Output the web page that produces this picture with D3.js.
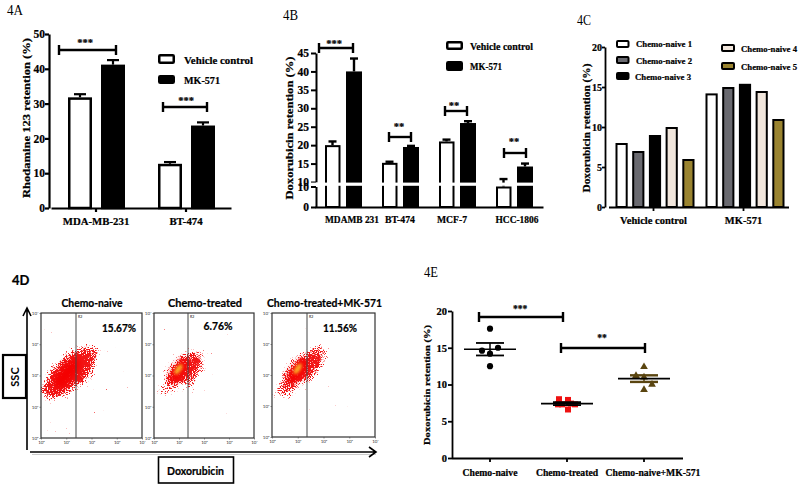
<!DOCTYPE html>
<html><head><meta charset="utf-8">
<script src="https://cdn.jsdelivr.net/npm/d3@7/dist/d3.min.js"></script>
<style>html,body{margin:0;background:#fff}svg{display:block}</style></head>
<body><svg id="c" width="800" height="486"></svg>
<script>
// ---- 4A
const aCats = ["MDA-MB-231","BT-474"];
const aSeries = ["Vehicle control","MK-571"];
const aVehicle = [31.8,12.7];
const aVehicleErr = [0.9,0.5];
const aMk = [41.2,23.7];
const aMkErr = [1.3,0.9];
// ---- 4B
const bCats = ["MDAMB 231","BT-474","MCF-7","HCC-1806"];
const bVehicle = [20,15.2,21,10];
const bVehicleErr = [1,0.3,0.5,0.8];
const bMk = [40,19.5,26,14.2];
const bMkErr = [3.5,0.3,0.5,0.8];
const bTicksLow = [0,10];
const bTicksHigh = [10,15,20,25,30,35,40,45];
// ---- 4C
const cCats = ["Vehicle control","MK-571"];
const cSeries = ["Chemo-naive 1","Chemo-naive 2","Chemo-naive 3","Chemo-naive 4","Chemo-naive 5"];
const cVehicle = [8,7,9,10,6];
const cMk = [14.2,15,15.4,14.5,11];
// ---- 4D flow cytometry density regions: [log x, log y, log rx, log ry, tilt]
const dPanels = ["Chemo-naive","Chemo-treated","Chemo-treated+MK-571"];
const dPercents = ["15.67%","6.76%","11.56%"];
const dNaive = [[1.02,2.05,1.22,0.46,-50],[1.72,2.3,0.9,0.3,-62],[0.42,1.55,0.55,0.16,-8]];
const dTreated = [[1.0,2.15,0.88,0.29,-54],[1.6,2.22,0.78,0.2,-70],[0.3,1.42,0.34,0.09,-8]];
const dCombo = [[1.0,2.12,0.94,0.32,-50],[1.6,2.38,0.78,0.25,-64],[0.42,1.42,0.44,0.1,-8]];
const dHot = [[],[0.98,2.2,0.24,0.09,-55],[1.0,2.2,0.24,0.09,-55]];
// ---- 4E
const eCats = ["Chemo-naive","Chemo-treated","Chemo-naive+MK-571"];
const ePointsNaive = [17.6,14.6,15,14.2,12.5];
const ePointsTreated = [8,7.9,7.3,7.4,6.6,7.3,7.3];
const ePointsCombo = [12.4,11.2,11,10,9.3];
const eMeans = [14.8,7.4,10.8];
const eErrs = [0.85,0.2,0.45];

const svg = d3.select("#c");
const SERIF = "'Liberation Serif','Times New Roman',serif";
const SANS = "Lato,'Open Sans',sans-serif";

function txt(x,y,s,size,opt={}){
  const t = svg.append("text").attr("x",x).attr("y",y).text(s)
    .attr("font-family",opt.family||SERIF).attr("font-size",size)
    .attr("font-weight",opt.weight||"bold").attr("fill","#000")
    .attr("text-anchor",opt.anchor||"start").attr("dominant-baseline","central");
  if((opt.weight||"bold")==="bold") t.attr("stroke","#000").attr("stroke-width",0.22);
  if(opt.len) t.attr("textLength",opt.len).attr("lengthAdjust","spacingAndGlyphs");
  return t;
}
function ylabel(x,cy,s,size,len){
  svg.append("text").attr("transform",`translate(${x},${cy}) rotate(-90)`).text(s)
    .attr("font-family",SERIF).attr("font-size",size).attr("font-weight","bold")
    .attr("stroke","#000").attr("stroke-width",0.22)
    .attr("text-anchor","middle").attr("dominant-baseline","central")
    .attr("textLength",len).attr("lengthAdjust","spacingAndGlyphs");
}
function styleAxis(g,w,size,family){
  g.selectAll("path,line").attr("stroke","#000").attr("stroke-width",w);
  g.selectAll("text").attr("font-family",family||SERIF).attr("font-size",size).attr("font-weight","bold").attr("fill","#000")
   .attr("stroke","#000").attr("stroke-width",0.22);
}
function bracket(x0,x1,y,cap,w){
  const g = svg.append("g").attr("stroke","#000").attr("stroke-width",w||2.4).attr("fill","none");
  g.append("line").attr("x1",x0).attr("x2",x1).attr("y1",y).attr("y2",y);
  [x0,x1].forEach(x=>g.append("line").attr("x1",x).attr("x2",x).attr("y1",y-cap).attr("y2",y+cap));
}
function stars(x,y,s,size){ txt(x,y,s,size||10.5,{anchor:"middle"}); }
function bar(g,x,w,yTop,yBase,fill,sw){
  g.append("rect").attr("x",x+sw/2).attr("y",yTop+sw/2).attr("width",w-sw).attr("height",yBase-yTop-sw/2)
   .attr("fill",fill).attr("stroke","#000").attr("stroke-width",sw);
}
function err(g,cx,yFrom,yTo,capW,w){
  g.append("line").attr("x1",cx).attr("x2",cx).attr("y1",yFrom).attr("y2",yTo).attr("stroke","#000").attr("stroke-width",w);
  g.append("line").attr("x1",cx-capW).attr("x2",cx+capW).attr("y1",yTo).attr("y2",yTo).attr("stroke","#000").attr("stroke-width",w);
}
function swatch(x,y,w,h,fill,sw){
  svg.append("rect").attr("x",x+sw/2).attr("y",y+sw/2).attr("width",w-sw).attr("height",h-sw).attr("fill",fill).attr("stroke","#000").attr("stroke-width",sw).attr("rx",1);
}

// ===== 4A
(function(){
  txt(7,10,"4A",14.5,{weight:"normal",len:16});
  const x = d3.scaleBand().domain(aCats).range([51,231]);
  const y = d3.scaleLinear().domain([0,50]).range([208,34]);
  const g = svg.append("g");
  aCats.forEach((c,i)=>{
    [[aSeries[0],aVehicle[i],aVehicleErr[i],"#fff"],[aSeries[1],aMk[i],aMkErr[i],"#000"]].forEach(d=>{
      const bw = 24, bx = x(c)+ (d[0]===aSeries[0]?45-28:45+5);
      err(g,bx+bw/2,y(d[1]),y(d[1]+d[2]),6,2.2);
      bar(g,bx,bw,y(d[1]),208,d[3],2.5);
    });
  });
  const ax = svg.append("g").attr("transform","translate(49,0)").call(d3.axisLeft(y).tickValues([0,10,20,30,40,50]).tickFormat(d3.format("d")).tickSize(4).tickSizeOuter(0).tickPadding(0));
  styleAxis(ax,2.2,11.5);
  const bx = svg.append("g").attr("transform","translate(0,208)").call(d3.axisBottom(x).tickSize(4).tickSizeOuter(0).tickPadding(5));
  styleAxis(bx,2.2,10.8);
  ylabel(26,118,"Rhodamine 123 retention (%)",10.5,160);
  bracket(59,116,50,5); stars(85,42,"***");
  bracket(163,207,107,5); stars(186,100,"***");
  swatch(158,54,17,10,"#fff",2.5); swatch(158,75,17,9,"#000",2.5);
  txt(184,60,aSeries[0],11,{len:69}); txt(184,80,aSeries[1],11,{len:36});
})();

// ===== 4B
(function(){
  txt(283,15,"4B",14.5,{weight:"normal",len:15});
  const yLow = d3.scaleLinear().domain([0,10]).range([207,186.5]);
  const yHigh = d3.scaleLinear().domain([10,45]).range([182,53]);
  const y = v => v<=10 ? yLow(v) : yHigh(v);
  const x = d3.scaleBand().domain(bCats).range([315,543]);
  const g = svg.append("g");
  bCats.forEach((c,i)=>{
    const L = x(c);
    err(g,L+17.5,y(bVehicle[i]),y(bVehicle[i]+bVehicleErr[i]),4,2.4);
    bar(g,L+10,15.5,y(bVehicle[i]),207,"#fff",2);
    err(g,L+39,y(bMk[i]),y(bMk[i]+bMkErr[i]),4,2.4);
    bar(g,L+31,16,y(bMk[i]),207,"#000",2);
  });
  const ax = svg.append("g").attr("transform","translate(316,0)");
  ax.append("g").call(d3.axisLeft(yHigh).tickValues(bTicksHigh).tickFormat(d3.format("d")).tickSize(5).tickSizeOuter(0).tickPadding(2));
  ax.append("g").call(d3.axisLeft(yLow).tickValues(bTicksLow).tickFormat(d3.format("d")).tickSize(5).tickSizeOuter(0).tickPadding(2));
  styleAxis(ax,2,11.5);
  const bx = svg.append("g").attr("transform","translate(0,207)").call(d3.axisBottom(x).tickSize(0).tickSizeOuter(0).tickPadding(6).tickFormat(()=>""));
  styleAxis(bx,2,10.5);
  svg.append("rect").attr("x",311).attr("y",182.6).attr("width",229).attr("height",3.2).attr("fill","#fff");
  [["MDAMB 231",352,54],["BT-474",400,30],["MCF-7",452,30],["HCC-1806",517,43]].forEach((d,i)=>txt(d[1],219,bCats[i],10.5,{anchor:"middle",len:d[2]}));
  ylabel(289,128,"Doxorubicin retention (%)",10.5,143);
  bracket(319,353,48,5); stars(334,43,"***");
  bracket(389,411,137,5); stars(399,126,"**");
  bracket(445,467,111,5); stars(454,105,"**");
  bracket(504,526,153,5); stars(514,141,"**");
  swatch(446,41,17,9,"#fff",2.5); swatch(446,61,17,10,"#000",2.5);
  txt(470,46,"Vehicle control",10.5,{len:63}); txt(470,66.5,"MK-571",10.5,{len:32});
})();

// ===== 4C
(function(){
  txt(577,20,"4C",14.5,{weight:"normal",len:14});
  const fills = d3.scaleOrdinal().domain(cSeries).range(["#fff","#6a6a70","#000","#f1e6dc","#9a8430"]);
  const x = d3.scaleBand().domain(cCats).range([608.5,788.5]);
  const inner = d3.scaleBand().domain(cSeries).range([7,86]).paddingInner(0.27).paddingOuter(0);
  const y = d3.scaleLinear().domain([0,20]).range([207,47]);
  const g = svg.append("g");
  cCats.forEach((c,i)=>{
    const vals = i===0?cVehicle:cMk;
    cSeries.forEach((s,j)=>bar(g,x(c)+inner(s),inner.bandwidth(),y(vals[j]),207,fills(s),2));
  });
  const ax = svg.append("g").attr("transform","translate(605,0)").call(d3.axisLeft(y).tickValues([0,5,10,15,20]).tickSize(3).tickSizeOuter(0).tickPadding(0));
  styleAxis(ax,1.8,10);
  const bx = svg.append("g").attr("transform","translate(0,207)").call(d3.axisBottom(x).tickSize(4).tickSizeOuter(0).tickPadding(6));
  styleAxis(bx,1.8,10.5);
  ylabel(587,128,"Doxorubicin retention (%)",9.5,129);
  [[616,40,0,636,44],[616,56,1,636,60.7],[616,72,2,635,76.5],[721,44,3,741,48.5],[721,62,4,741,67]].forEach(d=>{
    swatch(d[0],d[1],d[2]<3?13.5:14,8,fills(cSeries[d[2]]),2);
    txt(d[3],d[4],cSeries[d[2]],9,{len:56});
  });
})();

// ===== 4D
(function(){
  const defs = svg.append("defs");
  const f = defs.append("filter").attr("id","speck").attr("x","-40%").attr("y","-40%").attr("width","180%").attr("height","180%").attr("color-interpolation-filters","sRGB");
  f.append("feGaussianBlur").attr("in","SourceAlpha").attr("stdDeviation",5).attr("result","soft");
  f.append("feTurbulence").attr("type","fractalNoise").attr("baseFrequency",0.95).attr("numOctaves",2).attr("seed",7).attr("result","noise");
  f.append("feComposite").attr("in","soft").attr("in2","noise").attr("operator","arithmetic")
    .attr("k1",0).attr("k2",0.95).attr("k3",1.6).attr("k4",-1.32).attr("result","sum");
  f.append("feComponentTransfer").attr("in","sum").attr("result","alpha").append("feFuncA").attr("type","linear").attr("slope",6).attr("intercept",0);
  f.append("feFlood").attr("flood-color","#f21616").attr("result","red");
  f.append("feComposite").attr("in","red").attr("in2","alpha").attr("operator","in");
  const hot = defs.append("filter").attr("id","hot").attr("x","-60%").attr("y","-60%").attr("width","220%").attr("height","220%");
  hot.append("feGaussianBlur").attr("stdDeviation",1.8);
  const core = defs.append("filter").attr("id","core").attr("x","-60%").attr("y","-60%").attr("width","220%").attr("height","220%");
  core.append("feGaussianBlur").attr("stdDeviation",3);

  const boxes = [[41,142,313,438,76],[154,254,313,438,188],[272,375,313,437,307]];
  const clouds = [dNaive,dTreated,dCombo];
  const titleX = [92,205,324.5];
  const titleLen = [61,74,115];
  boxes.forEach((b,i)=>{
    const x = d3.scaleLinear().domain([0,4]).range([b[0],b[1]]);
    const y = d3.scaleLinear().domain([0,4]).range([b[3],b[2]]);
    const rx = d3.scaleLinear().domain([0,4]).range([0,b[1]-b[0]]);
    const ry = d3.scaleLinear().domain([0,4]).range([0,b[3]-b[2]]);
    const clipId = "clip"+i;
    defs.append("clipPath").attr("id",clipId).append("rect").attr("x",b[0]).attr("y",b[2]).attr("width",b[1]-b[0]).attr("height",b[3]-b[2]);
    const g = svg.append("g").attr("clip-path",`url(#${clipId})`);
    const place = d=>`translate(${x(d[0])},${y(d[1])}) rotate(${d[4]})`;
    g.append("g").attr("filter","url(#speck)").selectAll("ellipse").data(clouds[i]).join("ellipse")
      .attr("transform",place).attr("rx",d=>rx(d[2])).attr("ry",d=>ry(d[3])).attr("fill","#f00");
    g.append("g").attr("filter","url(#core)").selectAll("ellipse").data(clouds[i].slice(0,1)).join("ellipse")
      .attr("transform",place).attr("rx",d=>rx(d[2])*0.6).attr("ry",d=>ry(d[3])*0.55).attr("fill","#f40000");
    g.append("g").attr("filter","url(#hot)").selectAll("ellipse").data(dHot[i].length?[dHot[i]]:[]).join("ellipse")
      .attr("transform",place).attr("rx",d=>rx(d[2])).attr("ry",d=>ry(d[3])).attr("fill","#f9a526");
    svg.append("rect").attr("x",b[0]).attr("y",b[2]).attr("width",b[1]-b[0]).attr("height",b[3]-b[2]).attr("fill","none").attr("stroke","#333").attr("stroke-width",1.2);
    svg.append("line").attr("x1",b[4]).attr("x2",b[4]).attr("y1",b[2]).attr("y2",b[3]).attr("stroke","#444").attr("stroke-width",1);
    const fmt = v=>"10"+"⁰¹²³⁴"[v];
    const ax = svg.append("g").attr("transform",`translate(${b[0]},0)`).call(d3.axisLeft(y).tickValues([0,1,2,3,4]).tickFormat(fmt).tickSize(1.5).tickPadding(1));
    const bx = svg.append("g").attr("transform",`translate(0,${b[3]})`).call(d3.axisBottom(x).tickValues([0,1,2,3,4]).tickFormat(fmt).tickSize(1.5).tickPadding(1));
    [ax,bx].forEach(a=>{a.select(".domain").remove();a.selectAll("line").attr("stroke","#444").attr("stroke-width",.6);a.selectAll("text").attr("font-size",4.5).attr("font-family",SANS).attr("fill","#333");});
    txt(b[4]+2,b[2]+4,"R2",3.5,{family:SANS,weight:"normal"});
    txt(titleX[i],302,dPanels[i],11,{family:SANS,anchor:"middle",len:titleLen[i]});
  });
  txt(119,328,dPercents[0],10.5,{family:SANS,anchor:"middle",len:34});
  txt(218,326,dPercents[1],10.5,{family:SANS,anchor:"middle",len:29});
  txt(340,328,dPercents[2],10.5,{family:SANS,anchor:"middle",len:34});
  txt(12,280,"4D",13,{family:SANS,weight:"bold"});
  const sh = svg.append("g").attr("stroke","#ccc").attr("fill","none").attr("stroke-width",1.2);
  sh.append("path").attr("d","M32 454.5H376");
  const ar = svg.append("g").attr("stroke","#000").attr("fill","none").attr("stroke-width",1.6);
  ar.append("path").attr("d","M27 450V308M23 316L27 308L31 316");
  ar.append("path").attr("d","M30 452H376M369 447L376 452L369 457");
  svg.append("rect").attr("x",3).attr("y",355).attr("width",23).attr("height",43).attr("fill","#fff").attr("stroke","#000").attr("stroke-width",2.2);
  svg.append("text").attr("transform","translate(14.5,377) rotate(-90)").text("SSC").attr("font-family",SANS).attr("font-weight","bold").attr("font-size",11).attr("text-anchor","middle").attr("dominant-baseline","central");
  svg.append("rect").attr("x",158.5).attr("y",457).attr("width",75).attr("height",26).attr("fill","#fff").attr("stroke","#000").attr("stroke-width",1.6);
  txt(195.5,470,"Doxorubicin",11.2,{family:SANS,anchor:"middle",len:57});
})();

// ===== 4E
(function(){
  txt(424,272,"4E",14.5,{weight:"normal",len:14});
  const x = d3.scaleBand().domain(eCats).range([451.5,682.5]);
  const y = d3.scaleLinear().domain([0,20]).range([458,311]);
  const ax = svg.append("g").attr("transform","translate(452,0)").call(d3.axisLeft(y).tickValues([0,5,10,15,20]).tickSize(4).tickSizeOuter(0).tickPadding(1));
  styleAxis(ax,1.8,10.5);
  const bx = svg.append("g").attr("transform","translate(0,458)").call(d3.axisBottom(x).tickSize(4).tickSizeOuter(0).tickPadding(7));
  styleAxis(bx,1.8,9.7);
  bx.selectAll(".tick text").attr("dx",(d,i)=>i===2?9:0);
  ylabel(427,385,"Doxorubicin retention (%)",9,120);
  const cx = c => x(c)+x.bandwidth()/2;
  const offN = [0,-8,8,0,0];
  const offT = [-8,1,-5,4,1,8,-9];
  const offC = [0,-8,0,8,0];
  const color = ["#000","#ee1111","#5a4510"];
  const sym = [d3.symbolCircle,d3.symbolSquare,d3.symbolTriangle];
  const sizes = [30,36,26];
  [[ePointsNaive,offN],[ePointsTreated,offT],[ePointsCombo,offC]].forEach((d,i)=>{
    const g = svg.append("g");
    d[0].forEach((v,k)=>{
      g.append("path").attr("d",d3.symbol(sym[i],sizes[i])()).attr("fill",color[i])
       .attr("transform",`translate(${cx(eCats[i])+d[1][k]},${y(v)})`);
    });
    const c = cx(eCats[i]);
    const lineCol = i===2?color[2]:"#000";
    const lw = i===2?2.4:1.8;
    [eMeans[i]+eErrs[i],eMeans[i]-eErrs[i]].forEach(v=>{
      svg.append("line").attr("x1",c-14).attr("x2",c+14).attr("y1",y(v)).attr("y2",y(v)).attr("stroke",lineCol).attr("stroke-width",lw);
    });
    svg.append("line").attr("x1",c).attr("x2",c).attr("y1",y(eMeans[i]+eErrs[i])).attr("y2",y(eMeans[i]-eErrs[i])).attr("stroke",lineCol).attr("stroke-width",1.5);
    svg.append("line").attr("x1",c-26).attr("x2",c+26).attr("y1",y(eMeans[i])).attr("y2",y(eMeans[i])).attr("stroke","#000").attr("stroke-width",1.6);
  });
  bracket(479,563,317,5); stars(520,309,"***",9.5);
  bracket(561,645,348,5); stars(602,338,"**",9.5);
})();
</script></body></html>
